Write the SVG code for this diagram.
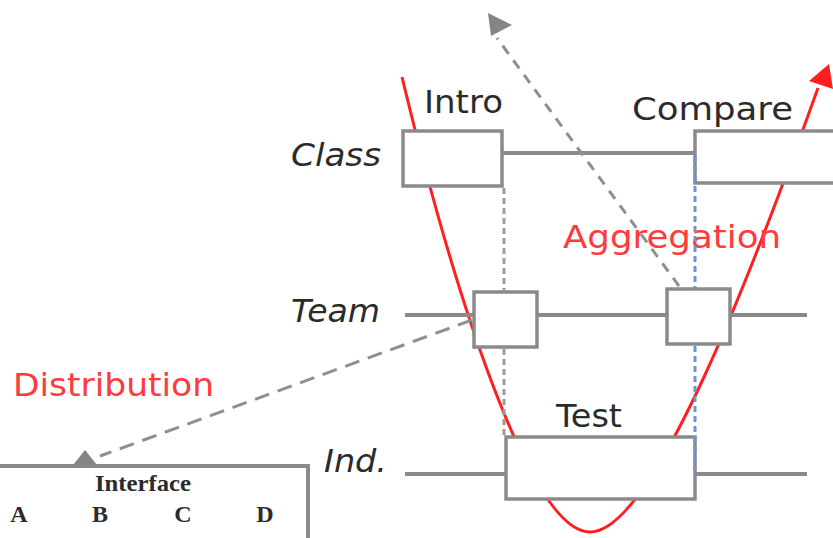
<svg xmlns="http://www.w3.org/2000/svg" width="833" height="538" viewBox="0 0 833 538">
  <style>
    .box { fill: #ffffff; stroke: #8a8a8a; stroke-width: 3.5; }
    .rail { stroke: #8a8a8a; stroke-width: 4; fill: none; }
    .drop { stroke: #9a9a9a; stroke-width: 3; fill: none; stroke-dasharray: 6 4; }
    .drop-blue { stroke: #6f97c9; stroke-width: 3; fill: none; stroke-dasharray: 6 4; }
    .flow { stroke: #8f8f8f; stroke-width: 3; fill: none; }
    .head { fill: #858585; }
    .curve { stroke: #ff1f1f; stroke-width: 3; fill: none; }
    .lbl { font-family: "DejaVu Sans", "Liberation Sans", sans-serif; font-size: 32px; fill: #2b2b2b; }
    .lvl { font-style: italic; }
    .red { fill: #ff3a3a; }
    .serif { font-family: "Liberation Serif", serif; font-weight: bold; font-size: 24px; fill: #2b2b2b; }
  </style>

  <!-- learning curve running behind the activity boxes -->
  <g id="flow-curve">
    <path class="curve" d="M402,77 C454,293 530,532 590,532 C655,532 757,258 818,88"/>
    <polygon points="829,64 809,81 833,89" fill="#ff1f1f"/>
  </g>

  <!-- level labels -->
  <g id="level-class"><text class="lbl lvl" x="291" y="166" textLength="90" lengthAdjust="spacingAndGlyphs">Class</text></g>
  <g id="level-team"><text class="lbl lvl" x="291" y="322" textLength="89" lengthAdjust="spacingAndGlyphs">Team</text></g>
  <g id="level-ind"><text class="lbl lvl" x="324" y="472" textLength="63" lengthAdjust="spacingAndGlyphs">Ind.</text></g>

  <!-- activity boxes -->
  <g id="intro">
    <rect class="box" x="403" y="131" width="99" height="55"/>
    <text class="lbl" x="424" y="113" textLength="79" lengthAdjust="spacingAndGlyphs">Intro</text>
  </g>
  <g id="compare">
    <rect class="box" x="695" y="131" width="150" height="52"/>
    <text class="lbl" x="632" y="120" textLength="161" lengthAdjust="spacingAndGlyphs">Compare</text>
  </g>
  <g id="team-a">
    <rect class="box" x="474" y="292" width="63" height="55"/>
  </g>
  <g id="team-b">
    <rect class="box" x="667" y="289" width="63" height="55"/>
  </g>
  <g id="test">
    <rect class="box" x="506" y="437" width="189" height="62"/>
    <text class="lbl" x="556" y="427" textLength="66" lengthAdjust="spacingAndGlyphs">Test</text>
  </g>

  <!-- interface panel -->
  <g id="interface">
    <path class="rail" d="M-2,466 H308 V540"/>
    <text class="serif" x="143" y="491" text-anchor="middle" textLength="96" lengthAdjust="spacingAndGlyphs">Interface</text>
    <text class="serif" x="19" y="522" text-anchor="middle">A</text>
    <text class="serif" x="100" y="522" text-anchor="middle">B</text>
    <text class="serif" x="183" y="522" text-anchor="middle">C</text>
    <text class="serif" x="265" y="522" text-anchor="middle">D</text>
  </g>

  <!-- process labels -->
  <g id="aggregation"><text class="lbl red" x="563" y="248" textLength="218" lengthAdjust="spacingAndGlyphs">Aggregation</text></g>
  <g id="distribution"><text class="lbl red" x="13" y="396" textLength="201" lengthAdjust="spacingAndGlyphs">Distribution</text></g>

  <!-- connectors -->
  <g id="connectors">
    <line class="rail" x1="502" y1="153" x2="695" y2="153"/>
    <line class="rail" x1="405" y1="315" x2="474" y2="315"/>
    <line class="rail" x1="537" y1="315" x2="667" y2="315"/>
    <line class="rail" x1="730" y1="315" x2="807" y2="315"/>
    <line class="rail" x1="405" y1="474" x2="506" y2="474"/>
    <line class="rail" x1="695" y1="474" x2="807" y2="474"/>

    <line class="drop" x1="504" y1="188" x2="504" y2="292"/>
    <line class="drop" x1="504" y1="349" x2="504" y2="437"/>
    <line class="drop-blue" x1="695" y1="156" x2="695" y2="289"/>
    <line class="drop-blue" x1="695" y1="346" x2="695" y2="470"/>

    <line class="flow" x1="679" y1="286" x2="497" y2="38" stroke-dasharray="10 8"/>
    <polygon class="head" points="488,13 512,25 491,36"/>

    <line class="flow" x1="472" y1="320" x2="100" y2="456" stroke-dasharray="15 9"/>
    <polygon class="head" points="73,465 97,465 85,450"/>
  </g>
</svg>
